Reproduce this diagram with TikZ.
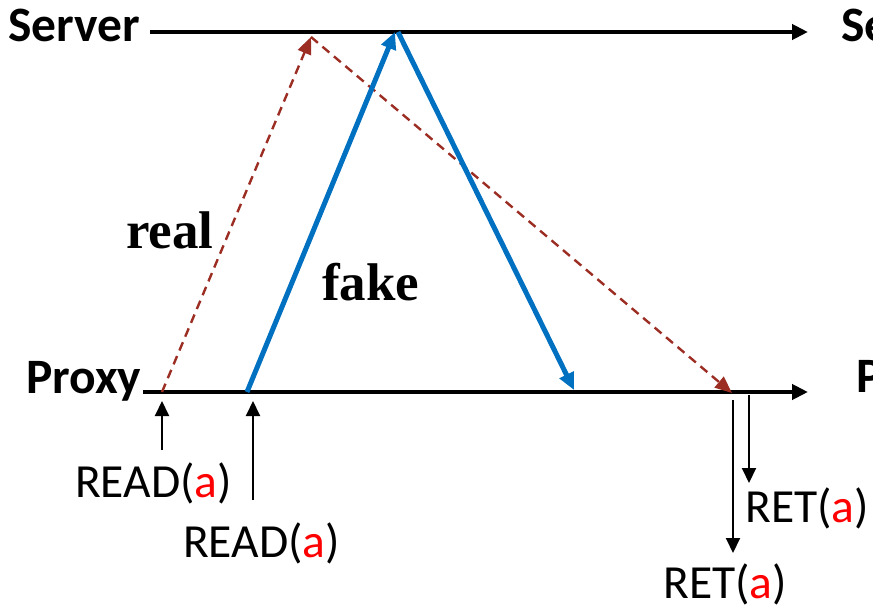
\documentclass[tikz,border=0pt]{standalone}
\usepackage{fontspec}
\setmainfont{Carlito}
\newfontfamily\timesfont{Liberation Serif}
\usetikzlibrary{arrows.meta}
\definecolor{realred}{RGB}{155,45,35}
\definecolor{fakeblue}{RGB}{0,112,192}
\newcommand{\ra}{\textcolor{red}{a}}
\tikzset{
  timeline/.style={line width=4pt,-{Triangle[length=16pt,width=15pt]}},
  realmsg/.style={realred,line width=2.4pt,dash pattern=on 9pt off 6pt,-{Triangle[length=17pt,width=14pt]}},
  fakemsg/.style={fakeblue,line width=5pt,-{Triangle[length=17pt,width=15pt]}},
  opmsg/.style={line width=2pt,-{Triangle[length=15pt,width=14pt]}},
  actor/.style={inner sep=0pt,anchor=base west,font=\fontsize{49.5}{54}\selectfont\bfseries},
  kind/.style={inner sep=0pt,anchor=base west,font=\fontsize{53}{58}\selectfont\timesfont\bfseries},
  oplabel/.style={inner sep=0pt,anchor=base west,font=\fontsize{47.5}{52}\selectfont},
}
\begin{document}
\begin{tikzpicture}[x=1pt,y=-1pt]
  \clip (0,0) rectangle (873,607);
  % process names
  \node[actor] (srvL) at (8,42) {Server};
  \node[actor] (prxL) at (26,393) {Proxy};
  \node[actor] (srvR) at (841,42) {Server};
  \node[actor] (prxR) at (856,392) {Proxy};
  % time lines
  \coordinate (s0) at (150,32); \coordinate (s1) at (808,32);
  \coordinate (p0) at (143,392); \coordinate (p1) at (808,392);
  \draw[timeline] (s0) -- (s1);
  \draw[timeline] (p0) -- (p1);
  % real request and reply
  \coordinate (r0) at (162,392); \coordinate (rs) at (311,37); \coordinate (r1) at (732,393);
  \draw[realmsg] (r0) -- (rs);
  \draw[realmsg] (rs) -- (r1);
  % fake request and reply
  \coordinate (f0) at (247,392); \coordinate (fs) at (395,32);
  \coordinate (fs2) at (398,32); \coordinate (f1) at (574,390);
  \draw[fakemsg] (f0) -- (fs);
  \draw[fakemsg] (fs2) -- (f1);
  \node[kind] (real) at (126,248) {real};
  \node[kind] (fake) at (322,300) {fake};
  % client operations
  \node[oplabel] (rd1) at (75,497) {READ(\ra)};
  \node[oplabel] (rd2) at (183,557) {READ(\ra)};
  \node[oplabel] (rt1) at (745,522) {RET(\ra)};
  \node[oplabel] (rt2) at (663,598) {RET(\ra)};
  \coordinate (q1) at (162,450); \coordinate (q2) at (253,500);
  \draw[opmsg] (q1) -- (162,401);
  \draw[opmsg] (q2) -- (253,401);
  \coordinate (a1) at (733,400); \coordinate (a2) at (749,395);
  \draw[opmsg] (a1) -- (733,553);
  \draw[opmsg] (a2) -- (749,483);
\end{tikzpicture}
\end{document}
